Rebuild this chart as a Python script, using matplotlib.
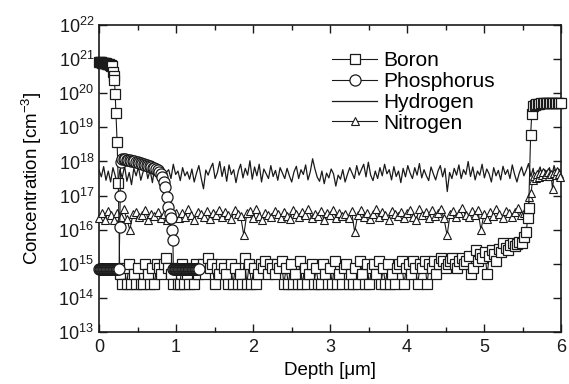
import matplotlib
matplotlib.use('Agg')
import matplotlib.pyplot as plt
from matplotlib.ticker import FixedLocator, MultipleLocator, NullLocator, FuncFormatter
import numpy as np

plt.rcParams['font.family'] = ['Liberation Sans', 'DejaVu Sans']
plt.rcParams['mathtext.default'] = 'regular'

# --- Boron (log10 concentration, cm^-3) ---
boron_surf_depth = [0.00, 0.01, 0.02, 0.03, 0.04, 0.05, 0.06, 0.07, 0.08, 0.09, 0.10, 0.11,
                    0.12, 0.13, 0.14, 0.15, 0.16, 0.17, 0.18, 0.19, 0.20, 0.21, 0.22, 0.235, 0.25]
boron_surf_log = [20.92, 20.92, 20.91, 20.91, 20.90, 20.90, 20.89, 20.89, 20.88, 20.88, 20.87, 20.86,
                  20.86, 20.85, 20.84, 20.83, 20.81, 20.79, 20.62, 20.50, 20.39, 19.98, 19.42, 18.57, 17.36]
# background region, units of 1e14 cm^-3, depth 0.27 .. 4.86 step 0.03
boron_bg = [5, 2.5, 7.5, 2.5, 10, 2.5, 5, 2.5, 7.5, 2.5, 2.5, 10, 5, 2.5, 7.5, 2.5, 10,
            7.5, 5, 10, 15, 7.5, 5,
            2.5, 7.5, 2.5, 2.5, 10, 2.5, 5, 2.5, 7.5, 2.5, 10, 5,
            7.5, 10, 5, 15, 7.5, 10,
            2.5, 7.5, 5, 10,
            7.5, 5,
            2.5, 10, 2.5, 7.5, 2.5, 5, 2.5, 15, 2.5, 10, 2.5, 7.5, 2.5, 5, 10,
            7.5, 12.5, 5, 10, 7.5, 5, 10, 7.5, 12.5,
            2.5, 7.5, 2.5, 10, 2.5, 5, 2.5, 12.5, 2.5, 7.5, 2.5, 5, 10, 2.5, 7.5, 2.5, 2.5, 10, 5, 2.5,
            7.5, 2.5, 12.5, 2.5, 5, 2.5, 7.5, 10, 2.5, 5, 2.5, 7.5, 2.5, 12.5, 5, 2.5, 10, 2.5,
            7.5, 10, 5, 12.5,
            2.5, 7.5, 2.5, 10, 2.5, 5, 2.5, 7.5,
            10, 12.5,
            2.5,
            7.5, 10, 5, 12.5, 7.5,
            2.5, 10,
            7.5, 12.5, 2.5, 10, 7.5, 12.5, 5, 10, 15, 12.5, 7.5, 10, 12.5, 15, 10, 7.5, 12.5, 15, 10, 12.5,
            17.5, 5, 7.5]
# back-side rise, units of 1e14 cm^-3, depth 4.89 .. 5.55 step 0.03
boron_rise = [25, 12.5, 20, 15, 22.5, 5, 17.5, 25, 20, 12.5, 27.5, 22.5,
              40, 30, 25, 35, 40, 32.5, 37.5, 45, 40, 60, 85]
boron_back_depth = [5.565, 5.58, 5.605, 5.62, 5.64, 5.66, 5.68, 5.70, 5.72, 5.74, 5.76, 5.78,
                    5.80, 5.82, 5.84, 5.86, 5.88, 5.90, 5.92, 5.94, 5.96, 5.98, 6.00]
boron_back_log = [16.34, 16.63, 18.77, 19.39, 19.62, 19.66, 19.68, 19.69, 19.69, 19.70, 19.70, 19.70,
                  19.70, 19.70, 19.70, 19.70, 19.70, 19.70, 19.70, 19.70, 19.70, 19.70, 19.70]

# --- Phosphorus ---
phos_depth = [0.00, 0.01, 0.02, 0.03, 0.04, 0.05, 0.06, 0.07, 0.08, 0.09, 0.10, 0.11, 0.12, 0.13,
              0.14, 0.15, 0.16, 0.17, 0.18, 0.19, 0.20, 0.21, 0.22, 0.23, 0.24, 0.25, 0.26,
              0.27, 0.275, 0.28, 0.30, 0.32, 0.34, 0.36, 0.38, 0.40, 0.42, 0.44, 0.46, 0.48, 0.50,
              0.52, 0.54, 0.56, 0.58, 0.60, 0.62, 0.64, 0.66, 0.68, 0.70, 0.72, 0.74, 0.76, 0.78,
              0.80, 0.82, 0.84, 0.86, 0.88, 0.90, 0.92, 0.94, 0.95, 0.96,
              0.965, 0.975, 0.985, 0.995, 1.005, 1.015, 1.025, 1.035, 1.045, 1.055, 1.065, 1.075,
              1.085, 1.095, 1.105, 1.115, 1.125, 1.135, 1.145, 1.155, 1.165, 1.175, 1.185, 1.195,
              1.205, 1.215, 1.225, 1.235, 1.245, 1.255, 1.265, 1.275, 1.285, 1.295]
phos_log = [14.85, 14.85, 14.85, 14.85, 14.85, 14.85, 14.85, 14.85, 14.85, 14.85, 14.85, 14.85, 14.85, 14.85,
            14.85, 14.85, 14.85, 14.85, 14.85, 14.85, 14.85, 14.85, 14.85, 14.85, 14.85, 14.85, 14.85,
            16.08, 17.00, 17.98, 18.06, 18.07, 18.06, 18.05, 18.04, 18.03, 18.02, 18.01, 18.00, 17.99, 17.98,
            17.96, 17.95, 17.94, 17.93, 17.91, 17.90, 17.88, 17.86, 17.84, 17.82, 17.80, 17.77, 17.74, 17.70,
            17.62, 17.54, 17.40, 17.25, 16.96, 16.67, 16.45, 16.34, 16.00, 15.70,
            14.85, 14.85, 14.85, 14.85, 14.85, 14.85, 14.85, 14.85, 14.85, 14.85, 14.85, 14.85,
            14.85, 14.85, 14.85, 14.85, 14.85, 14.85, 14.85, 14.85, 14.85, 14.85, 14.85, 14.85,
            14.85, 14.85, 14.85, 14.85, 14.85, 14.85, 14.85, 14.85, 14.85, 14.85]

# --- Hydrogen, depth 0 .. 6 (200 points) ---
hydrogen_log = [
    17.75, 17.55, 17.85, 17.45, 17.72, 17.40, 17.82, 17.58, 17.30, 17.76, 17.52, 17.88, 17.42, 17.68, 17.32, 17.80, 17.58, 17.84, 17.45, 17.70,
    17.90, 17.50, 17.74, 17.38, 17.85, 17.60, 17.48, 17.80, 17.25, 17.68, 17.76, 17.50, 17.92, 17.62, 17.72, 17.44, 17.82, 17.58, 17.70, 17.48,
    17.78, 17.40, 17.66, 17.88, 17.52, 17.20, 17.75, 17.60, 17.80, 17.95, 17.50, 17.68, 18.00, 17.56, 17.85, 17.42, 17.90, 17.62, 17.76, 17.38,
    17.72, 17.92, 17.52, 17.80, 17.60, 18.02, 17.48, 17.84, 17.58, 17.92, 17.40, 17.78, 17.64, 17.50, 17.88, 17.56, 17.74, 17.45, 17.82, 17.66,
    17.50, 17.80, 17.58, 17.40, 17.70, 17.86, 17.50, 17.76, 17.62, 17.90, 17.46, 17.70, 18.08, 17.78, 17.54, 17.42, 17.72, 17.35, 17.66, 17.52,
    17.78, 17.64, 17.28, 17.60, 17.48, 17.76, 17.40, 17.62, 17.82, 17.66, 17.50, 17.88, 17.60, 17.76, 17.92, 17.55, 17.98, 17.60, 17.44, 17.72,
    17.50, 17.82, 17.58, 17.92, 17.64, 17.76, 17.46, 17.85, 17.56, 17.72, 17.38, 17.80, 17.55, 17.88, 17.66, 17.50, 17.82, 17.60, 17.94, 17.52,
    17.76, 17.58, 17.44, 17.84, 17.64, 17.46, 17.72, 17.88, 17.55, 17.80, 17.12, 17.68, 17.50, 17.80, 17.60, 17.90, 17.50, 17.76, 17.62, 18.00,
    17.56, 17.84, 17.46, 17.72, 17.60, 17.92, 17.52, 17.78, 17.64, 17.40, 17.82, 17.58, 17.74, 17.46, 17.86, 17.62, 17.76, 17.50, 17.90, 17.62,
    17.40, 17.66, 17.84, 17.58, 17.74, 17.94, 17.56, 17.80, 17.35, 17.68, 17.84, 17.52, 17.76, 17.62, 17.82, 17.56, 17.88, 17.64, 17.78, 17.70,
]

# --- Nitrogen, depth 0 .. 5.56 step 0.04, then back-side tail ---
nitrogen_log = [
    16.35, 16.48, 16.30, 16.55, 16.42, 16.28, 16.50, 16.38, 16.60, 16.32, 16.00, 16.45, 16.52, 16.36, 16.44, 16.58, 16.30, 16.47, 16.40, 16.53,
    16.34, 16.46, 16.29, 16.56, 16.41, 16.50, 16.33, 16.48, 16.37, 16.62, 16.43, 16.30, 16.52, 16.45, 16.38, 16.55, 16.31, 16.49, 16.42, 16.57,
    16.36, 16.51, 16.44, 16.32, 16.58, 16.46, 16.39, 15.84, 16.48, 16.54, 16.35, 16.62, 16.41, 16.30, 16.50, 16.44, 16.37, 16.56, 16.47, 16.33,
    16.52, 16.40, 16.31, 16.58, 16.45, 16.36, 16.53, 16.42, 16.60, 16.34, 16.47, 16.39, 16.55, 16.30, 16.48, 16.43, 16.57, 16.35, 16.50, 16.41,
    16.46, 16.33, 16.55, 15.93, 16.44, 16.58, 16.38, 16.50, 16.31, 16.47, 16.60, 16.36, 16.52, 16.42, 16.30, 16.56, 16.45, 16.39, 16.53, 16.34,
    16.49, 16.58, 16.37, 16.30, 16.62, 16.44, 16.52, 16.35, 16.57, 16.41, 16.48, 16.60, 16.33, 15.84, 16.46, 16.54, 16.38, 16.50, 16.63, 16.42,
    16.36, 16.55, 16.44, 16.58, 15.99, 16.47, 16.32, 16.52, 16.40, 16.61, 16.45, 16.35, 16.56, 16.48, 16.38, 16.53, 16.65, 16.42, 16.50, 16.37,
]
nitrogen_tail_depth = [5.59, 5.61, 5.63, 5.65, 5.67, 5.69, 5.71, 5.73, 5.75, 5.77, 5.79,
                       5.81, 5.83, 5.85, 5.87, 5.89, 5.91, 5.93, 5.95, 5.97, 5.99]
nitrogen_tail_log = [16.96, 17.07, 17.45, 17.58, 17.52, 17.63, 17.55, 17.66, 17.60, 17.68, 17.57,
                     17.64, 17.70, 17.58, 17.62, 17.18, 17.66, 17.60, 17.72, 17.63, 17.55]

boron_depth = np.concatenate([boron_surf_depth,
                              np.linspace(0.27, 4.86, len(boron_bg)),
                              np.linspace(4.89, 5.55, len(boron_rise)),
                              boron_back_depth])
boron_conc = np.concatenate([10.0 ** np.array(boron_surf_log),
                             np.array(boron_bg) * 1e14,
                             np.array(boron_rise) * 1e14,
                             10.0 ** np.array(boron_back_log)])
phos_conc = 10.0 ** np.array(phos_log)
hyd_depth = np.linspace(0, 6, len(hydrogen_log))
hyd_conc = 10.0 ** np.array(hydrogen_log)
nit_depth = np.concatenate([np.linspace(0, 5.56, len(nitrogen_log)), nitrogen_tail_depth])
nit_conc = 10.0 ** np.concatenate([nitrogen_log, nitrogen_tail_log])

fig = plt.figure(figsize=(5.69, 3.84), dpi=100)
ax = fig.add_axes([0.174, 0.135, 0.812, 0.80])

k = '#1a1a1a'
lh, = ax.plot(hyd_depth, hyd_conc, color=k, lw=0.9, zorder=2, label='Hydrogen')
ln, = ax.plot(nit_depth, nit_conc, color=k, lw=0.8, marker='^', ms=5.5, mfc='white', mec=k,
              mew=0.8, zorder=3, clip_on=False, label='Nitrogen')
lb, = ax.plot(boron_depth, boron_conc, color=k, lw=0.8, marker='s', ms=7, mfc='white', mec=k,
              mew=0.9, zorder=4, clip_on=False, label='Boron')
lp, = ax.plot(phos_depth, phos_conc, color=k, lw=0.8, marker='o', ms=8, mfc='white', mec=k,
              mew=0.9, zorder=5, clip_on=False, label='Phosphorus')

ax.set_yscale('log')
ax.set_xlim(0, 6)
ax.set_ylim(1e13, 1e22)
ax.yaxis.set_major_locator(FixedLocator([10.0 ** e for e in range(13, 23)]))
ax.yaxis.set_minor_locator(NullLocator())
ax.yaxis.set_major_formatter(FuncFormatter(lambda v, p: '$10^{%d}$' % round(np.log10(v))))
ax.xaxis.set_major_locator(MultipleLocator(1))
ax.xaxis.set_minor_locator(MultipleLocator(0.5))
ax.tick_params(which='both', direction='in', top=True, right=True, colors=k, labelsize=13)
ax.tick_params(which='major', length=6, width=1)
ax.tick_params(which='minor', length=3.5, width=1)
ax.tick_params(axis='x', pad=5)
for s in ax.spines.values():
    s.set_linewidth(1.2)
    s.set_color(k)

ax.set_xlabel('Depth [\u03bcm]', fontsize=13.5, labelpad=4)
ax.set_ylabel('Concentration [cm$^{-3}$]', fontsize=13.5, labelpad=10)

ax.legend(handles=[lb, lp, lh, ln], loc='upper left', bbox_to_anchor=(0.505, 0.915),
          frameon=False, fontsize=15, handlelength=2.15, handletextpad=0.3,
          labelspacing=0.09, borderaxespad=0, borderpad=0)

plt.savefig('out.png', dpi=100)
plt.close()
